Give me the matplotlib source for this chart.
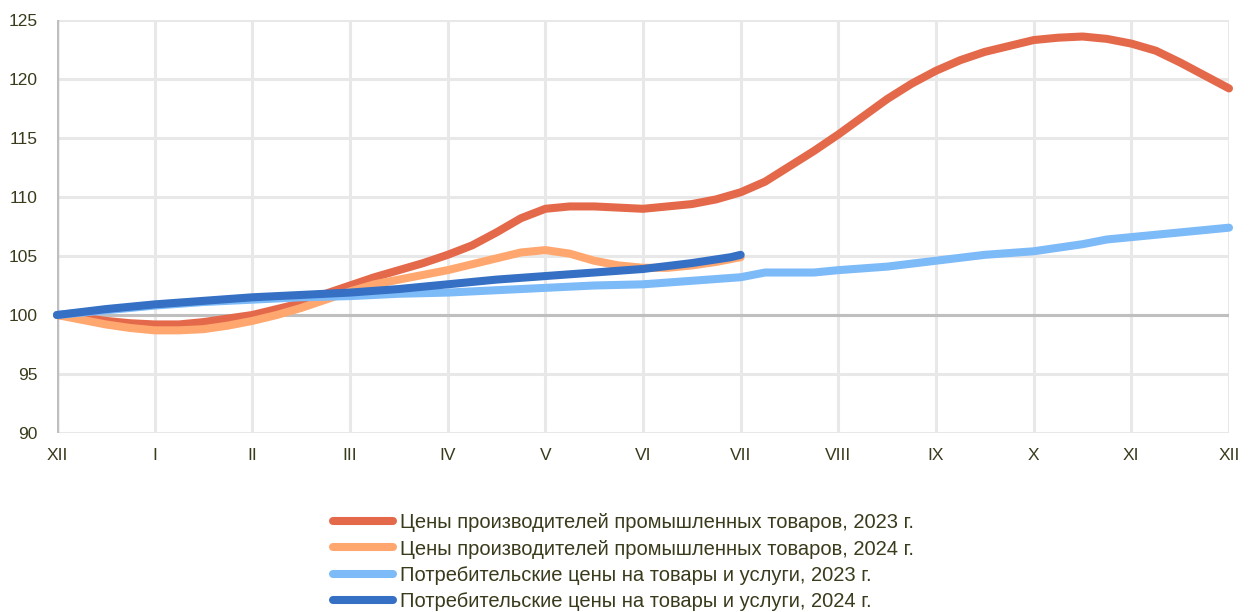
import matplotlib
matplotlib.use("Agg")
import matplotlib.pyplot as plt

plt.rcParams['font.family'] = ['Liberation Sans', 'DejaVu Sans']

month_labels = ["XII", "I", "II", "III", "IV", "V", "VI", "VII", "VIII", "IX", "X", "XI", "XII"]

# positions in months from December of previous year
ppi23_x = [0, 0.25, 0.5, 0.75, 1, 1.25, 1.5, 1.75, 2, 2.25, 2.5, 2.75, 3, 3.25, 3.5, 3.75, 4, 4.25,
           4.5, 4.75, 5, 5.25, 5.5, 5.75, 6, 6.25, 6.5, 6.75, 7, 7.25, 7.5, 7.75, 8, 8.25, 8.5, 8.75,
           9, 9.25, 9.5, 9.75, 10, 10.25, 10.5, 10.75, 11, 11.25, 11.5, 11.75, 12]
ppi23_y = [100, 99.8, 99.5, 99.3, 99.2, 99.2, 99.4, 99.7, 100.0, 100.5, 101.0, 101.8, 102.5, 103.2,
           103.8, 104.4, 105.1, 105.9, 107.0, 108.2, 109.0, 109.2, 109.2, 109.1, 109.0, 109.2, 109.4,
           109.8, 110.4, 111.3, 112.6, 113.9, 115.3, 116.8, 118.3, 119.6, 120.7, 121.6, 122.3, 122.8,
           123.3, 123.5, 123.6, 123.4, 123.0, 122.4, 121.4, 120.3, 119.2]

ppi24_x = [0, 0.25, 0.5, 0.75, 1, 1.25, 1.5, 1.75, 2, 2.25, 2.5, 2.75, 3, 3.25, 3.5, 3.75, 4, 4.25,
           4.5, 4.75, 5, 5.25, 5.5, 5.75, 6, 6.25, 6.5, 6.75, 7]
ppi24_y = [100, 99.6, 99.2, 98.9, 98.7, 98.7, 98.8, 99.1, 99.5, 100.0, 100.6, 101.3, 102.0, 102.6,
           103.0, 103.4, 103.8, 104.3, 104.8, 105.3, 105.5, 105.2, 104.6, 104.2, 104.0, 104.0,
           104.2, 104.5, 104.9]

cpi23_x = [0, 0.5, 1, 1.5, 2, 2.5, 3, 3.5, 4, 4.5, 5, 5.5, 6, 6.5, 7, 7.25, 7.75, 8, 8.5, 9, 9.5,
           10, 10.5, 10.75, 11, 11.5, 12]
cpi23_y = [100, 100.4, 100.8, 101.1, 101.3, 101.5, 101.6, 101.8, 101.9, 102.1, 102.3, 102.5, 102.6,
           102.9, 103.2, 103.6, 103.6, 103.8, 104.1, 104.6, 105.1, 105.4, 106.0, 106.4, 106.6,
           107.0, 107.4]

cpi24_x = [0, 0.5, 1, 1.5, 2, 2.5, 3, 3.5, 4, 4.5, 5, 5.5, 6, 6.5, 6.9, 7]
cpi24_y = [100, 100.5, 100.9, 101.2, 101.5, 101.7, 101.9, 102.2, 102.6, 103.0, 103.3, 103.6,
           103.9, 104.4, 104.9, 105.1]

labels = ["Цены производителей промышленных товаров, 2023 г.",
          "Цены производителей промышленных товаров, 2024 г.",
          "Потребительские цены на товары и услуги, 2023 г.",
          "Потребительские цены на товары и услуги, 2024 г."]
colors = ["#E4694A", "#FFA76E", "#7DBAF8", "#3570C4"]

text_color = "#3A3A1C"

fig = plt.figure(figsize=(12.56, 6.12), dpi=100)
ax = fig.add_axes([57/1256, 1-433/612, (1229-57)/1256, (433-20)/612])

ax.set_xlim(0, 12)
ax.set_ylim(90, 125)
ax.set_xticks(range(13))
ax.set_xticklabels(month_labels)
ax.set_yticks(range(90, 126, 5))

for x in range(13):
    ax.axvline(x, color="#E8E8E8", lw=2.2, zorder=0)
for y in range(90, 126, 5):
    ax.axhline(y, color="#E8E8E8", lw=2.2, zorder=0)
ax.axhline(100, color="#BFBFBF", lw=2.2, zorder=1)
ax.axvline(0, color="#BFBFBF", lw=2.5, zorder=1)

for s in ax.spines.values():
    s.set_visible(False)
ax.tick_params(length=0, labelsize=12.5, colors=text_color, pad=11)
ax.tick_params(axis='y', pad=14)

series = [(ppi23_x, ppi23_y), (ppi24_x, ppi24_y), (cpi23_x, cpi23_y), (cpi24_x, cpi24_y)]
handles = []
for (xs, ys), c, lab in zip(series, colors, labels):
    h, = ax.plot(xs, ys, color=c, lw=5.8, solid_capstyle='round', solid_joinstyle='round',
                 label=lab, zorder=3, clip_on=False)
    handles.append(h)

leg = fig.legend(handles=handles, labels=labels, loc='upper left',
                 bbox_to_anchor=(323/1256, 1-503/612), frameon=False,
                 fontsize=14.5, handlelength=3.0, handletextpad=0.3,
                 labelspacing=0.37, borderpad=0)
for t in leg.get_texts():
    t.set_color(text_color)

fig.savefig("out.png", dpi=100)
